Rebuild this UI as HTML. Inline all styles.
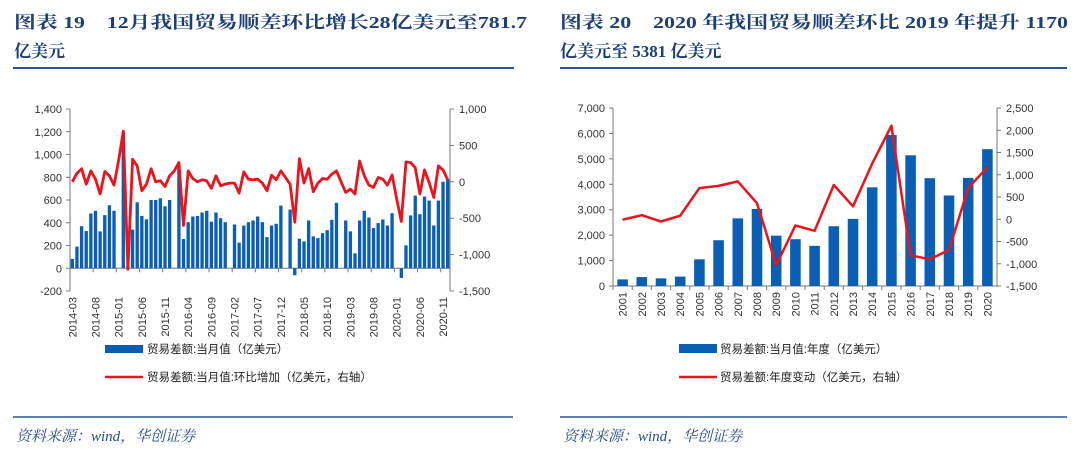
<!DOCTYPE html>
<html><head><meta charset="utf-8">
<style>
html,body{margin:0;padding:0;background:#fff;}
svg{display:block;}
text{font-family:"Liberation Sans","Noto Sans CJK SC",sans-serif;}
.title{font-family:"Liberation Serif","Noto Serif CJK SC",serif;font-weight:bold;font-size:17px;fill:#1c3f74;}
.src{font-family:"Liberation Serif","Noto Serif CJK SC",serif;font-style:italic;font-size:15px;fill:#2a4f8a;}
.tk{font-size:11px;fill:#333;}
.lg{font-size:11.5px;fill:#222;font-family:"Liberation Sans","Noto Sans CJK SC",sans-serif;}
</style></head>
<body>
<svg id="s" width="1080" height="453" viewBox="0 0 1080 453" xmlns="http://www.w3.org/2000/svg">
<g>
<text class="title" x="14" y="28" textLength="513" lengthAdjust="spacingAndGlyphs">图表 19　12月我国贸易顺差环比增长28亿美元至781.7</text>
<text class="title" x="14" y="57">亿美元</text>
</g>
<line x1="13" y1="68" x2="514" y2="68" stroke="#2a5597" stroke-width="2"/>
<g>
<text class="title" x="560" y="28" textLength="508" lengthAdjust="spacingAndGlyphs">图表 20　2020 年我国贸易顺差环比 2019 年提升 1170</text>
<text class="title" x="560" y="57">亿美元至 5381 亿美元</text>
</g>
<line x1="560" y1="68" x2="1067" y2="68" stroke="#2a5597" stroke-width="2"/>
<g id="c1"></g>
<g id="c2"></g>
<g>
<rect x="105" y="345" width="38" height="8" fill="#0a5fb4"/>
<text class="lg" x="147" y="353">贸易差额:当月值（亿美元）</text>
<line x1="105" y1="377" x2="143" y2="377" stroke="#e8141e" stroke-width="2.5"/>
<text class="lg" x="147" y="381">贸易差额:当月值:环比增加（亿美元，右轴）</text>
</g>
<g>
<rect x="679" y="344" width="38" height="9" fill="#0a5fb4"/>
<text class="lg" x="720" y="353">贸易差额:当月值:年度（亿美元）</text>
<line x1="679" y1="377" x2="717" y2="377" stroke="#e8141e" stroke-width="2.5"/>
<text class="lg" x="720" y="381">贸易差额:年度变动（亿美元，右轴）</text>
</g>
<line x1="13" y1="417" x2="513" y2="417" stroke="#2a5597" stroke-width="1.5"/>
<text class="src" x="16" y="441">资料来源：wind，华创证券</text>
<line x1="560" y1="417" x2="1067" y2="417" stroke="#2a5597" stroke-width="1.5"/>
<text class="src" x="563" y="441">资料来源：wind，华创证券</text>
</svg>
<script>
// ---- Chart 1 data (monthly, 2014-03 .. 2020-12) ----
const monthStart = [2014, 3];
const monthlyBalance = [82,190,370,327,481,505,324,467,554,505,
 null,1196,20,340,580,460,430,600,600,615,545,600,
 null,900,257,405,455,460,490,505,410,490,440,405,
 null,385,225,375,405,420,455,405,274,376,391,551,
 null,516,-61,260,236,420,280,265,309,335,426,575,
 null,420,324,131,420,505,446,353,397,429,376,484,
 null,-85,201,464,639,475,630,595,376,595,761,782];
const monthlyChange = [0,118,180,-32,150,36,-168,141,82,-45,
 300,695,-1200,309,218,-123,-32,180,0,14,-64,82,
 150,264,-600,150,45,0,27,14,-91,82,-55,-32,
 -18,-18,-155,136,36,27,36,-18,-123,91,27,150,
 59,-32,-555,318,-18,182,-136,-18,45,36,105,150,
 0,-145,-100,-168,286,82,-45,-77,59,36,-45,95,
 -236,-545,273,264,195,-168,164,-9,-214,218,164,28];
const leftTicks1 = [-200,0,200,400,600,800,1000,1200,1400];
const rightTicks1 = [-1500,-1000,-500,0,500,1000];
const tickEvery = 5;
// ---- Chart 2 data (annual) ----
const years = [2001,2002,2003,2004,2005,2006,2007,2008,2009,2010,2011,2012,2013,2014,2015,2016,2017,2018,2019,2020];
const annualBalance = [260,350,300,370,1050,1800,2660,3030,1980,1840,1580,2350,2640,3880,5940,5140,4240,3560,4250,5380];
const annualChange = [-10,90,-50,80,700,750,850,360,-1030,-140,-260,770,290,1250,2100,-810,-900,-690,700,1170];
const leftTicks2 = [0,1000,2000,3000,4000,5000,6000,7000];
const rightTicks2 = [-1500,-1000,-500,0,500,1000,1500,2000,2500];

const NS = "http://www.w3.org/2000/svg";
function mk(parent, tag, attrs){ const e=document.createElementNS(NS,tag); for(const k in attrs) e.setAttribute(k,attrs[k]); parent.appendChild(e); return e; }
function fmt(v){ return v.toLocaleString('en-US'); }

function drawChart(g, o){
  const n = o.cats.length;
  const slot = (o.x1-o.x0)/n;
  const yL = v => o.y1 - (v-o.lmin)/(o.lmax-o.lmin)*(o.y1-o.y0);
  const yR = v => o.y1 - (v-o.rmin)/(o.rmax-o.rmin)*(o.y1-o.y0);
  const xc = i => o.x0 + slot*(i+0.5);
  let a = mk(g,'line',{x1:o.x0,y1:o.y0,x2:o.x0,y2:o.y1,stroke:'#777','stroke-width':1});
   
  a = mk(g,'line',{x1:o.x1,y1:o.y0,x2:o.x1,y2:o.y1,stroke:'#777','stroke-width':1});
   
  a = mk(g,'line',{x1:o.x0,y1:yL(0),x2:o.x1,y2:yL(0),stroke:'#777','stroke-width':1});
   
  o.lt.forEach(v=>{
    mk(g,'line',{x1:o.x0-4,y1:yL(v),x2:o.x0,y2:yL(v),stroke:'#777'});
    const t = mk(g,'text',{x:o.x0-8,y:yL(v)+4,'text-anchor':'end',class:'tk'}); t.textContent=fmt(v);
     
  });
  o.rt.forEach(v=>{
    mk(g,'line',{x1:o.x1,y1:yR(v),x2:o.x1+4,y2:yR(v),stroke:'#777'});
    const t = mk(g,'text',{x:o.x1+9,y:yR(v)+4,class:'tk'}); t.textContent=fmt(v);
     
  });
  o.bars.forEach((v,i)=>{
    if(v===null) return;
    const top=Math.min(yL(v),yL(0)), h=Math.abs(yL(v)-yL(0));
    const r = mk(g,'rect',{x:xc(i)-slot*o.bw/2,y:top,width:slot*o.bw,height:h,fill:'#0a5fb4'});
     
  });
  const pts = o.line.map((v,i)=>xc(i).toFixed(1)+','+yR(v).toFixed(1)).join(' ');
  const pl = mk(g,'polyline',{points:pts,fill:'none',stroke:'#e8141e','stroke-width':o.lw,'stroke-linejoin':'round'});
   
  o.cats.forEach((c,i)=>{
    if(i % o.every) return;
    const x=xc(i), y=o.labY;
    mk(g,'line',{x1:o.x0+slot*i,y1:yL(0),x2:o.x0+slot*i,y2:yL(0)+4,stroke:'#777'});
    const t = mk(g,'text',{x:x+4,y:y,'text-anchor':'end',class:'tk',transform:`rotate(-90 ${x+4} ${y})`}); t.textContent=c;
     
  });
}
const months = monthlyBalance.map((_,i)=>{ const m=monthStart[1]-1+i; const y=monthStart[0]+Math.floor(m/12); return y+'-'+String(m%12+1).padStart(2,'0'); });
drawChart(document.getElementById('c1'),{cats:months,bars:monthlyBalance,line:monthlyChange,x0:70,x1:450,y0:109,y1:291,
  lmin:-200,lmax:1400,rmin:-1500,rmax:1000,lt:leftTicks1,rt:rightTicks1,bw:0.72,every:tickEvery,labY:297,lw:2.8});
drawChart(document.getElementById('c2'),{cats:years.map(String),bars:annualBalance,line:annualChange,x0:613,x1:997,y0:108,y1:286,
  lmin:0,lmax:7000,rmin:-1500,rmax:2500,lt:leftTicks2,rt:rightTicks2,bw:0.55,every:1,labY:292,lw:2.5});
</script>
</body></html>
